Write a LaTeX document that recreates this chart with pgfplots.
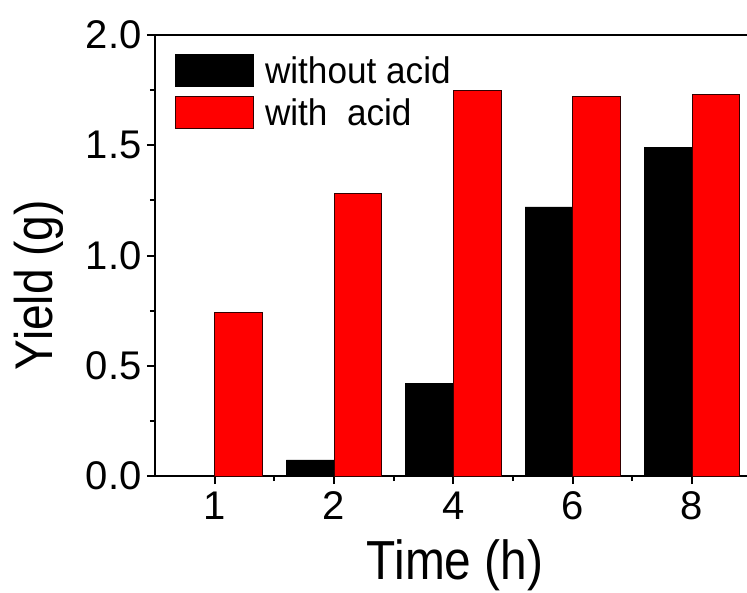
\documentclass[border=0pt]{standalone}
\usepackage{pgfplots}
\pgfplotsset{compat=1.18}
\usepackage{fontspec}
\setmainfont{Liberation Sans}
\newfontfamily\condensed[FakeStretch=0.87]{Liberation Sans}
\newfontfamily\legfont[FakeStretch=0.95]{Liberation Sans}
\begin{document}
\begin{tikzpicture}
\begin{axis}[
  scale only axis, width=592pt, height=441pt,
  xmin=-0.5, xmax=4.46, ymin=0, ymax=2.0,
  axis x line*=box, axis y line*=left,
  axis line style={line width=2.5pt, -},
  xtick={0,1,2,3,4}, xticklabels={1,2,4,6,8},
  xtick pos=left,
  ytick={0,0.5,1.0,1.5,2.0},
  yticklabels={0.0,0.5,1.0,1.5,2.0},
  minor x tick num=1, minor y tick num=1,
  tick align=outside,
  major tick length=8pt, minor tick length=5pt,
  every tick/.style={black, line width=2pt},
  /pgf/number format/assume math mode=true,
  ticklabel style={font=\fontsize{40}{48}\selectfont},
  xticklabel style={yshift=-4pt},
  yticklabel style={xshift=-2pt},
  xlabel={Time (h)},
  xlabel style={font=\condensed\fontsize{55}{64}\selectfont, at={(axis description cs:0.507,-0.2358)}, anchor=base},
  ylabel={Yield (g)},
  ylabel style={font=\condensed\fontsize{53}{62}\selectfont, at={(axis description cs:-0.1723,0.433)}, anchor=base},
  legend cell align=left,
  legend style={at={(axis description cs:0.0288,0.9615)}, anchor=north west, draw=none, fill=none,
    font=\legfont\fontsize{37}{44}\selectfont, row sep=9pt},
  legend image code/.code={\draw[#1] (0pt,-16pt) rectangle (78pt,16pt);},
]
\addplot[ybar, bar width=0.4, bar shift=-0.2, fill=black, draw=black, line width=0.8pt]
  coordinates {(0,0) (1,0.073) (2,0.42) (3,1.22) (4,1.49)};
\addlegendentry{\hspace*{9pt}without acid}
\addplot[ybar, bar width=0.4, bar shift=0.2, fill=red, draw=black!80!red, line width=0.8pt]
  coordinates {(0,0.74) (1,1.28) (2,1.75) (3,1.72) (4,1.73)};
\addlegendentry{\hspace*{9pt}with~~acid}
\coordinate (bl) at (rel axis cs:0,0);
\coordinate (tr) at (rel axis cs:1,1);
\end{axis}
\pgfresetboundingbox
\path ([xshift=-155pt,yshift=-116pt]bl) rectangle ([yshift=35pt]tr);
\end{tikzpicture}
\end{document}
